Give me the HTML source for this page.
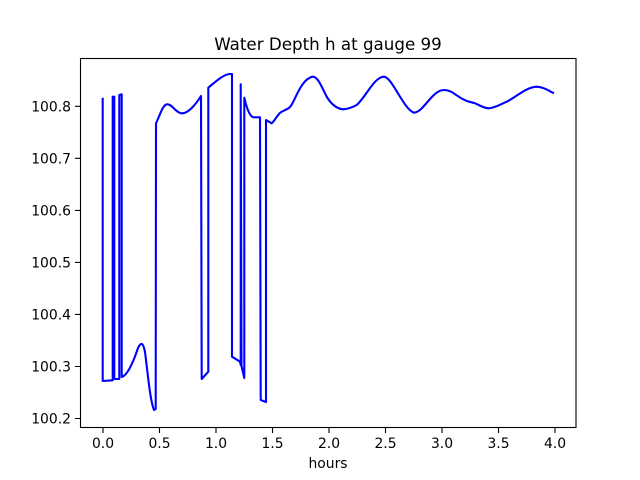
<!DOCTYPE html>
<html><head><style>body{margin:0;background:#fff}svg{display:block}</style></head><body>
<svg width="640" height="480" xmlns="http://www.w3.org/2000/svg" font-family="DejaVu Sans, Liberation Sans, sans-serif">
<rect width="640" height="480" fill="#fff"/>
<text x="328" y="50" font-size="16.7" text-anchor="middle">Water Depth h at gauge 99</text>
<g fill="none" stroke="#0000ff" stroke-width="2.1" stroke-linejoin="round">
<path d="M102.7,97.7 L102.7,381 L112.7,380.3 L112.7,96.7 L114.3,96.7 L114.3,379 L119.3,379 L119.3,95 L121.7,94.3 L121.7,377 C128,375 134,360 138,348 C141,342 143,342 145,352 C148,375 150,400 154,410 L155.7,409 L156,123.3 C160,115 163,104 167.3,104.3 C172,104 176,113 181.7,113.3 C188,114 196,104 201,96 L201.7,379 L208.3,371.7 L208.3,87.7 C215,82 224,74 230,74 L232,74 L232,356.7 L240,361.7 L240.7,365 L240.7,84.3 L241.5,366 L244.3,378 L244.3,97.7 C246,105 249,116 253.3,117.3 L260,117.3 L260.7,400 L266,402 L266,120 L271.7,123.3 C275,121 278,113 281.7,111.7 C285,110 288,109 290,107 C295,102 300,80 312.3,76.7 C318,76 322,88 326.7,96.7 C331,104 337,109 343.3,109.3 C348,109 353,107 356.7,105 C366,97 374,77 384,76.7 C392,77 404,110 414,112.7 C424,112 432,90 444,90 C452,90 456,96 463.3,99.3 C468,102 471,102 475,103.3 C481,106 484,108 488.3,108.3 C495,108 501,104 506.7,101.7 C515,98 526,87 536.7,86.7 C544,87 549,91 554,93.3"/>
</g>
<g stroke="#000" stroke-width="1.1" fill="none">
<rect x="80.5" y="58.5" width="495.5" height="369"/>
<path d="M103,428v5M159.5,428v5M216,428v5M272.5,428v5M329,428v5M385.5,428v5M442,428v5M498.5,428v5M555,428v5"/>
<path d="M80,418.5h-5M80,366.5h-5M80,314.4h-5M80,262.4h-5M80,210.4h-5M80,158.3h-5M80,106.3h-5"/>
</g>
<g font-size="13.9" text-anchor="middle">
<text x="103" y="448">0.0</text><text x="159.5" y="448">0.5</text><text x="216" y="448">1.0</text><text x="272.5" y="448">1.5</text><text x="329" y="448">2.0</text><text x="385.5" y="448">2.5</text><text x="442" y="448">3.0</text><text x="498.5" y="448">3.5</text><text x="555" y="448">4.0</text>
<text x="328" y="468">hours</text>
</g>
<g font-size="13.9" text-anchor="end">
<text x="71" y="423.5">100.2</text><text x="71" y="371.5">100.3</text><text x="71" y="319.4">100.4</text><text x="71" y="267.4">100.5</text><text x="71" y="215.4">100.6</text><text x="71" y="163.3">100.7</text><text x="71" y="111.3">100.8</text>
</g>
</svg>
</body></html>
